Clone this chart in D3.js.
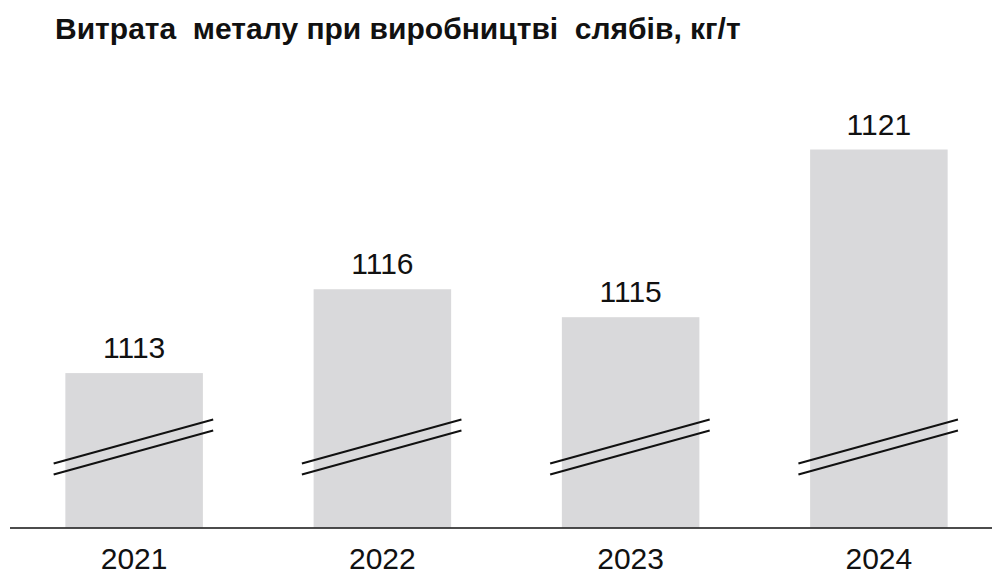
<!DOCTYPE html>
<html><head><meta charset="utf-8">
<script src="https://cdn.jsdelivr.net/npm/d3@7"></script>
<style>
html,body{margin:0;padding:0;background:#fff;}
svg{display:block;}
</style></head>
<body>
<script>
const title = "Витрата  металу при виробництві  слябів, кг/т";
const years = ["2021","2022","2023","2024"];
const values = [1113, 1116, 1115, 1121];

const W = 992, H = 575;
const svg = d3.select("body").append("svg").attr("width", W).attr("height", H);

const baseY = 527.5;
const x = d3.scaleBand().domain(years).range([10, 1003]).paddingInner(0.446).paddingOuter(0.223);
const y = d3.scaleLinear().domain([1107.475, 1121]).range([baseY, 149.5]);

svg.append("text")
  .attr("x", 55).attr("y", 38.5)
  .attr("font-family", "Liberation Sans, Arial, sans-serif")
  .attr("font-weight", "bold").attr("font-size", 30)
  .attr("fill", "#111")
  .style("white-space", "pre")
  .text(title);

const g = svg.append("g");
g.selectAll("rect.bar").data(values).join("rect")
  .attr("class","bar")
  .attr("x", (d,i) => x(years[i]))
  .attr("width", x.bandwidth())
  .attr("y", d => y(d))
  .attr("height", d => baseY - y(d))
  .attr("fill", "#d9d9db");

// axis break marks
years.forEach(yr => {
  const x0 = x(yr) - 11.7, x1 = x(yr) + x.bandwidth() + 10.3;
  [0, 11].forEach(off => {
    g.append("line")
      .attr("x1", x0).attr("y1", baseY - 64 + off)
      .attr("x2", x1).attr("y2", baseY - 108 + off)
      .attr("stroke", "#111").attr("stroke-width", 2);
  });
});

g.selectAll("text.val").data(values).join("text")
  .attr("class","val")
  .attr("x", (d,i) => x(years[i]) + x.bandwidth()/2)
  .attr("y", d => y(d) - 15)
  .attr("text-anchor","middle")
  .attr("font-family", "Liberation Sans, Arial, sans-serif")
  .attr("font-size", 30).attr("fill", "#111")
  .text(d => d);

// baseline axis
const axis = d3.axisBottom(x).tickSize(0).tickPadding(20);
const ax = svg.append("g").attr("transform", `translate(0,${baseY})`).call(axis);
ax.select(".domain").remove();
ax.selectAll("text")
  .attr("font-family", "Liberation Sans, Arial, sans-serif")
  .attr("font-size", 30).attr("fill", "#111");
svg.append("line").attr("x1", 10).attr("x2", W).attr("y1", baseY + 0.5).attr("y2", baseY + 0.5)
  .attr("stroke", "#111").attr("stroke-width", 1.6);
</script>
</body></html>
